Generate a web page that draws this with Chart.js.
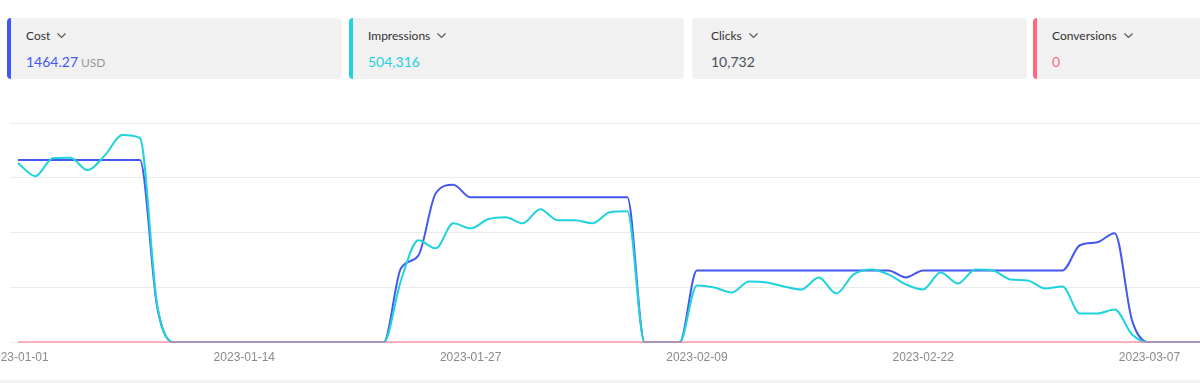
<!DOCTYPE html>
<html>
<head>
<meta charset="utf-8">
<script src="https://cdn.jsdelivr.net/npm/chart.js@4/dist/chart.umd.min.js"></script>
<style>
  body { margin: 0; width: 1200px; height: 383px; overflow: hidden; background: #fff; font-family: Lato, "Noto Sans", sans-serif; position: relative; }
  .card { position: absolute; top: 18px; width: 335px; height: 61px; box-sizing: border-box; background: #f1f1f1; border-radius: 4px; border-left: 4px solid #f1f1f1; }
  .card .title { position: absolute; left: 15px; top: 10px; font-size: 12px; line-height: 16px; color: #333; }
  .card .title svg { margin-left: 7px; vertical-align: 2px; }
  .card .value { position: absolute; left: 15px; top: 34px; font-size: 14px; line-height: 20px; }
  .card .unit { font-size: 12px; color: #999; margin-left: 3px; }
  #wrap { position: absolute; left: 0; top: 95px; width: 1200px; height: 285px; }
  .strip { position: absolute; left: 0; top: 380px; width: 1200px; height: 3px; background: #f3f3f3; }
</style>
</head>
<body>
<div class="card" style="left:7px; border-left-color:#4358f0">
  <div class="title">Cost<svg width="9" height="5" viewBox="0 0 9 5"><polyline points="0.5,0.5 4.5,4.5 8.5,0.5" fill="none" stroke="#555" stroke-width="1.1"/></svg></div>
  <div class="value" style="color:#4358f0">1464.27<span class="unit">USD</span></div>
</div>
<div class="card" style="left:349px; border-left-color:#1fd3dc">
  <div class="title">Impressions<svg width="9" height="5" viewBox="0 0 9 5"><polyline points="0.5,0.5 4.5,4.5 8.5,0.5" fill="none" stroke="#555" stroke-width="1.1"/></svg></div>
  <div class="value" style="color:#1fd3dc">504,316</div>
</div>
<div class="card" style="left:692px;">
  <div class="title">Clicks<svg width="9" height="5" viewBox="0 0 9 5"><polyline points="0.5,0.5 4.5,4.5 8.5,0.5" fill="none" stroke="#555" stroke-width="1.1"/></svg></div>
  <div class="value" style="color:#4a4f5c">10,732</div>
</div>
<div class="card" style="left:1033px; border-left-color:#ff6785">
  <div class="title">Conversions<svg width="9" height="5" viewBox="0 0 9 5"><polyline points="0.5,0.5 4.5,4.5 8.5,0.5" fill="none" stroke="#555" stroke-width="1.1"/></svg></div>
  <div class="value" style="color:#ff6785">0</div>
</div>

<div id="wrap"><canvas id="trendChart"></canvas></div>
<div class="strip"></div>

<script>
// one entry per day
const dates = [
  '2023-01-01','2023-01-02','2023-01-03','2023-01-04','2023-01-05','2023-01-06','2023-01-07','2023-01-08',
  '2023-01-09','2023-01-10','2023-01-11','2023-01-12','2023-01-13','2023-01-14','2023-01-15','2023-01-16',
  '2023-01-17','2023-01-18','2023-01-19','2023-01-20','2023-01-21','2023-01-22','2023-01-23','2023-01-24',
  '2023-01-25','2023-01-26','2023-01-27','2023-01-28','2023-01-29','2023-01-30','2023-01-31',
  '2023-02-01','2023-02-02','2023-02-03','2023-02-04','2023-02-05','2023-02-06','2023-02-07','2023-02-08',
  '2023-02-09','2023-02-10','2023-02-11','2023-02-12','2023-02-13','2023-02-14','2023-02-15','2023-02-16',
  '2023-02-17','2023-02-18','2023-02-19','2023-02-20','2023-02-21','2023-02-22','2023-02-23','2023-02-24',
  '2023-02-25','2023-02-26','2023-02-27','2023-02-28',
  '2023-03-01','2023-03-02','2023-03-03','2023-03-04','2023-03-05','2023-03-06','2023-03-07','2023-03-08',
  '2023-03-09','2023-03-10'
];

const tickDates = ['2023-01-01', '2023-01-14', '2023-01-27', '2023-02-09', '2023-02-22', '2023-03-07'];

const costValues = [
  49.9, 49.9, 49.9, 49.9, 49.9, 49.9, 49.9, 49.9, 9.6,
  0, 0, 0, 0, 0, 0, 0, 0, 0, 0, 0, 0, 0,
  20.3, 23.8, 40.8, 43.1, 39.7, 39.7, 39.7, 39.7, 39.7, 39.7, 39.7, 39.7, 39.7, 39.7,
  0, 0, 0,
  19.7, 19.7, 19.7, 19.7, 19.7, 19.7, 19.7, 19.7, 19.7, 19.7, 19.7, 19.7, 17.8,
  19.7, 19.7, 19.7, 19.7, 19.7, 19.7, 19.7, 19.7, 19.7, 26.6, 27.4, 29.9, 6.0,
  0, 0, 0, 0
];

const impressionValues = [
  19620, 18190, 20160, 20200, 18850, 20490, 22680, 22360, 4050,
  0, 0, 0, 0, 0, 0, 0, 0, 0, 0, 0, 0, 0,
  6790, 11180, 10300, 13040, 12490, 13480, 13700, 13040, 14580, 13370, 13370, 13040, 14250, 14360,
  0, 0, 0,
  6250, 6030, 5480, 6680, 6580, 6140, 5810, 7120, 5370, 7450, 8000, 7450, 6360,
  5810, 7670, 6470, 8000, 7890, 6900, 6790, 5920, 6140, 3180, 3180, 3620, 880,
  0, 0, 0, 0
];

const conversionValues = [
  0, 0, 0, 0, 0, 0, 0, 0, 0, 0, 0, 0, 0, 0, 0, 0, 0, 0, 0, 0, 0, 0, 0,
  0, 0, 0, 0, 0, 0, 0, 0, 0, 0, 0, 0, 0, 0, 0, 0, 0, 0, 0, 0, 0, 0, 0,
  0, 0, 0, 0, 0, 0, 0, 0, 0, 0, 0, 0, 0, 0, 0, 0, 0, 0, 0, 0, 0, 0, 0
];

const toPoints = values => values.map((v, i) => ({ x: i, y: v }));

const ctx = document.getElementById('trendChart').getContext('2d');

new Chart(ctx, {
  type: 'line',
  data: {
    datasets: [
      {
        label: 'Conversions',
        data: toPoints(conversionValues),
        borderColor: '#ff6785',
        yAxisID: 'y',
        order: 0
      },
      {
        label: 'Impressions',
        data: toPoints(impressionValues),
        borderColor: '#1fd3dc',
        yAxisID: 'y1',
        order: 1
      },
      {
        label: 'Cost',
        data: toPoints(costValues),
        borderColor: '#4358f0',
        yAxisID: 'y',
        order: 2
      }
    ]
  },
  options: {
    responsive: true,
    maintainAspectRatio: false,
    animation: false,
    layout: { padding: { left: 10, right: 0, top: 28, bottom: 7 } },
    elements: {
      line: { borderWidth: 2, cubicInterpolationMode: 'monotone', fill: false },
      point: { radius: 0 }
    },
    plugins: {
      legend: { display: false },
      tooltip: { enabled: false }
    },
    scales: {
      x: {
        type: 'linear',
        min: -0.46,
        max: 67.9,
        grid: { display: false, drawTicks: false },
        border: { display: false },
        ticks: {
          color: '#8a8a8a',
          font: { family: '"Liberation Sans", Arial, sans-serif', size: 12 },
          padding: 8,
          maxRotation: 0,
          autoSkip: false,
          callback: value => dates[value]
        },
        afterBuildTicks: scale => {
          scale.ticks = tickDates.map(d => ({ value: dates.indexOf(d) }));
        },
        afterFit: scale => {
          // let the first label hang off the left edge like the original
          scale.paddingLeft = 0;
          scale.paddingRight = 0;
        }
      },
      y: {
        min: 0,
        max: 60,
        ticks: { display: false, stepSize: 15 },
        grid: { color: '#ebebeb', drawTicks: false },
        border: { display: false }
      },
      y1: {
        display: false,
        min: 0,
        max: 24000
      }
    }
  }
});
</script>
</body>
</html>
